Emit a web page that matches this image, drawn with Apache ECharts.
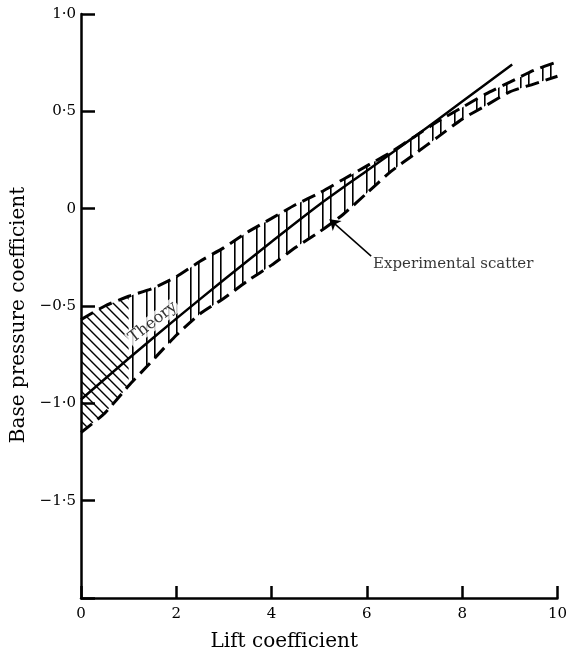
<!DOCTYPE html>
<html>
<head>
<meta charset="utf-8">
<script src="https://cdn.jsdelivr.net/npm/echarts@6/dist/echarts.min.js"></script>
<style>
html,body{margin:0;padding:0;background:#fff;}
#chart{width:570px;height:657px;}
</style>
</head>
<body>
<div id="chart"></div>
<script>
// ---- data ----
const bandX = [0, 0.5, 1, 1.5, 2, 2.5, 3, 3.5, 4, 4.5, 5, 5.5, 6, 6.5, 7, 7.5, 8, 8.5, 9, 9.5, 10];
const bandUpper = [-0.57, -0.50, -0.45, -0.41, -0.35, -0.27, -0.20, -0.12, -0.05, 0.02, 0.08, 0.15, 0.22, 0.29, 0.37, 0.45, 0.52, 0.59, 0.65, 0.71, 0.755];
const bandLower = [-1.15, -1.05, -0.91, -0.78, -0.65, -0.54, -0.46, -0.37, -0.29, -0.20, -0.12, -0.03, 0.08, 0.19, 0.28, 0.37, 0.46, 0.53, 0.60, 0.64, 0.68];
const diagonalHatchEnd = 1;   // band region hatched diagonally: x <= this
const theoryX = [0, 1, 2, 3, 4, 5, 6, 7, 8, 9.05];
const theoryY = [-0.98, -0.77, -0.565, -0.365, -0.17, 0.02, 0.195, 0.37, 0.55, 0.74];
const xTickValues = [0, 2, 4, 6, 8, 10];
const xTickLabels = ['0', '2', '4', '6', '8', '10'];
const yTickValues = [1, 0.5, 0, -0.5, -1, -1.5];
const yTickLabels = ['1·0', '0·5', '0', '−0·5', '−1·0', '−1·5'];
const theoryLabel = {text: 'Theory', x: 1.51, y: -0.584, angle: 38};
const scatterLabel = {text: 'Experimental scatter', x: 6.13, y: -0.285};
const arrowFrom = [6.09, -0.244];
const arrowTo = [5.22, -0.055];

// ---- helpers ----
const pairs = (xa, ya) => xa.map((x, i) => [x, ya[i]]);
const SERIF = 'DejaVu Serif';

function makePattern(kind) {
  const c = document.createElement('canvas');
  const ctx = c.getContext('2d');
  if (kind === 'vert') {
    c.width = 22; c.height = 4;
    ctx.fillStyle = '#000';
    ctx.fillRect(0, 0, 1.6, 4);
    ctx.fillRect(14, 0, 1.6, 4);
  } else {
    c.width = 10; c.height = 10;
    ctx.strokeStyle = '#000';
    ctx.lineWidth = 1.4;
    ctx.beginPath();
    ctx.moveTo(-1, -1); ctx.lineTo(11, 11);
    ctx.moveTo(-1, 9); ctx.lineTo(1, 11);
    ctx.moveTo(9, -1); ctx.lineTo(11, 1);
    ctx.stroke();
  }
  return {image: c, repeat: 'repeat'};
}
const vertPattern = makePattern('vert');
const diagPattern = makePattern('diag');

function bandPolygon(filterFn, pattern) {
  return function (params, api) {
    const idx = bandX.map((x, i) => i).filter(i => filterFn(bandX[i]));
    const top = idx.map(i => api.coord([bandX[i], bandUpper[i]]));
    const bot = idx.slice().reverse().map(i => api.coord([bandX[i], bandLower[i]]));
    return {type: 'polygon', shape: {points: top.concat(bot), smooth: 0}, style: {fill: pattern, stroke: null}, silent: true};
  };
}

const chart = echarts.init(document.getElementById('chart'), null, {renderer: 'canvas'});
chart.setOption({
  animation: false,
  backgroundColor: '#fff',
  grid: {left: 81, right: 6, top: 14, bottom: 57},
  xAxis: {
    type: 'value', min: 0, max: 10, interval: 2,
    axisLine: {onZero: false, lineStyle: {color: '#000', width: 2.5}},
    axisTick: {inside: true, length: 12, lineStyle: {color: '#000', width: 2.5}},
    axisLabel: {margin: 9, color: '#000', fontFamily: SERIF, fontSize: 15,
      formatter: v => { const k = xTickValues.indexOf(v); return k >= 0 ? xTickLabels[k] : ''; }},
    splitLine: {show: false},
    name: 'Lift coefficient', nameLocation: 'middle', nameGap: 34,
    nameTextStyle: {color: '#000', fontFamily: SERIF, fontSize: 20, padding: [0, 70, 0, 0]}
  },
  yAxis: {
    type: 'value', min: -2, max: 1, interval: 0.5,
    axisLine: {onZero: false, lineStyle: {color: '#000', width: 2.5}},
    axisTick: {inside: true, length: 14, lineStyle: {color: '#000', width: 2.5}},
    axisLabel: {margin: 5, color: '#000', fontFamily: SERIF, fontSize: 15,
      formatter: v => { const k = yTickValues.findIndex(t => Math.abs(t - v) < 1e-9); return k >= 0 ? yTickLabels[k] : ''; }},
    splitLine: {show: false},
    name: 'Base pressure coefficient', nameLocation: 'middle', nameGap: 50,
    nameTextStyle: {color: '#000', fontFamily: SERIF, fontSize: 20, padding: [0, 18, 0, 0]}
  },
  series: [
    {type: 'custom', name: 'hatchDiag', data: [[0, 0]], z: 1, silent: true,
     renderItem: bandPolygon(x => x <= diagonalHatchEnd, diagPattern)},
    {type: 'custom', name: 'hatchVert', data: [[0, 0]], z: 1, silent: true,
     renderItem: bandPolygon(x => x >= diagonalHatchEnd, vertPattern)},
    {type: 'line', name: 'upper', data: pairs(bandX, bandUpper), symbol: 'none', smooth: 0.2, z: 3,
     lineStyle: {color: '#000', width: 3, type: [14, 7]}},
    {type: 'line', name: 'lower', data: pairs(bandX, bandLower), symbol: 'none', smooth: 0.2, z: 3,
     lineStyle: {color: '#000', width: 3, type: [14, 7]}},
    {type: 'line', name: 'Theory', data: pairs(theoryX, theoryY), symbol: 'none', smooth: 0.3, z: 4,
     lineStyle: {color: '#000', width: 2.5}},
    {type: 'scatter', name: 'labels', symbolSize: 0, z: 5, silent: true,
     data: [
       {value: [theoryLabel.x, theoryLabel.y],
        label: {show: true, formatter: theoryLabel.text, position: 'inside', rotate: theoryLabel.angle,
                color: '#000', fontFamily: SERIF, fontSize: 16, backgroundColor: '#fff', padding: [0, 2]}},
       {value: [scatterLabel.x, scatterLabel.y],
        label: {show: true, formatter: scatterLabel.text, position: 'right', distance: 0,
                color: '#000', fontFamily: SERIF, fontSize: 15}}
     ],
     markLine: {
       silent: true, symbol: ['none', 'arrow'], symbolSize: 10,
       lineStyle: {color: '#000', width: 1.5, type: 'solid'},
       label: {show: false},
       data: [[{coord: arrowFrom}, {coord: arrowTo}]]
     }}
  ]
});
</script>
</body>
</html>
